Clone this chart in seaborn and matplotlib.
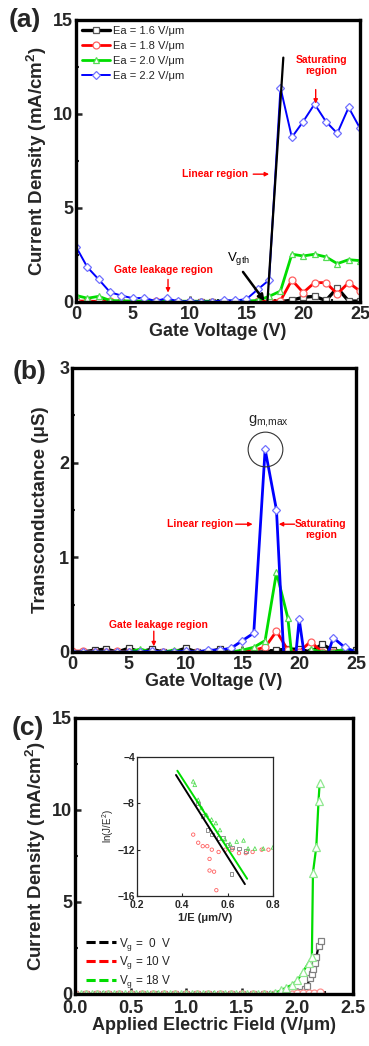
import numpy as np
import matplotlib
matplotlib.use("Agg")
import matplotlib.pyplot as plt
from matplotlib.ticker import MultipleLocator
from matplotlib.lines import Line2D
import seaborn as sns

# --- panel (a): current density vs gate voltage ---
gate_v = list(range(26))
ea_labels = ["Ea = 1.6 V/\u03bcm", "Ea = 1.8 V/\u03bcm", "Ea = 2.0 V/\u03bcm", "Ea = 2.2 V/\u03bcm"]
j_16 = [0.02, 0.02, 0.02, 0.02, 0.02, 0.02, 0.02, 0.02, 0.02, 0.02, 0.02, 0.02, 0.02,
        0.02, 0.02, 0.02, 0.02, 0.02, 0.02, 0.1, 0.25, 0.3, 0.08, 0.75, 0.05, 0.05]
j_18 = [0.05, 0.04, 0.03, 0.03, 0.03, 0.03, 0.03, 0.03, 0.03, 0.02, 0.02, 0.02, 0.02,
        0.02, 0.02, 0.02, 0.03, 0.05, 0.07, 1.17, 0.5, 1.03, 1.03, 0.43, 1.03, 0.58]
j_20 = [0.35, 0.2, 0.3, 0.08, 0.06, 0.05, 0.05, 0.05, 0.04, 0.04, 0.04, 0.04, 0.04,
        0.04, 0.05, 0.05, 0.08, 0.3, 0.58, 2.54, 2.45, 2.54, 2.4, 2.04, 2.25, 2.2]
j_22 = [2.94, 1.85, 1.2, 0.52, 0.34, 0.2, 0.22, 0.05, 0.2, 0.03, 0.05, 0.02, 0.02,
        0.1, 0.08, 0.15, 0.67, 1.17, 11.4, 8.76, 9.6, 10.53, 9.6, 8.97, 10.35, 9.24]
tangent_v = [16.85, 18.25]
tangent_j = [0.0, 13.0]

# --- panel (b): transconductance ---
gm_16 = [0, 0, 0.02, 0.03, 0, 0.04, 0, 0.03, 0, 0, 0.04, 0, 0, 0.03, 0, 0, 0, 0,
         0.02, 0.03, 0.03, 0, 0.08, 0.02, 0, 0.02]
gm_18 = [0.01, 0.01, 0, 0, 0.01, 0, 0, 0, 0, 0, 0, 0, 0, 0, 0, 0, 0.02, 0.05,
         0.22, 0.02, 0.0, 0.11, 0.0, 0.0, 0.02, 0]
gm_20 = [0, 0, 0, 0, 0, 0, 0.03, 0, 0, 0.02, 0, 0, 0, 0, 0, 0.02, 0.05, 0.12,
         0.84, 0.36, -0.8, 0.03, 0, 0, 0.03, 0.01]
gm_22 = [0, 0, 0, 0, 0, 0, 0, 0.01, 0, 0, 0.01, 0, 0.02, 0.02, 0.04, 0.12, 0.2, 2.14,
         1.5, -0.9, 0.345, -0.5, -0.2, 0.15, 0.05, 0.0]

# --- panel (c): current density vs applied field ---
vg_labels = ["V$_\\mathrm{g}$ =  0  V", "V$_\\mathrm{g}$ = 10 V", "V$_\\mathrm{g}$ = 18 V"]
e_18 = [0.0, 0.05, 0.1, 0.15, 0.2, 0.25, 0.3, 0.35, 0.4, 0.45, 0.5, 0.55, 0.6, 0.65,
        0.7, 0.75, 0.8, 0.85, 0.9, 0.95, 1.0, 1.05, 1.1, 1.15, 1.2, 1.25, 1.3, 1.35,
        1.4, 1.45, 1.5, 1.55, 1.6, 1.65, 1.7, 1.75, 1.8, 1.85, 1.9, 1.95, 2.0, 2.05,
        2.1, 2.13, 2.14, 2.17, 2.19, 2.2]
j_vg18 = [0.0] * 36 + [0.05, 0.2, 0.35, 0.5, 0.75, 1.2, 1.7, 2.0, 6.6, 8.0, 10.5, 11.45]
e_0 = [0.0, 0.1, 0.2, 0.3, 0.4, 0.5, 0.6, 0.7, 0.8, 0.9, 1.0, 1.1, 1.2, 1.3, 1.4,
       1.5, 1.6, 1.7, 1.8, 1.9, 1.96, 2.02, 2.07, 2.09, 2.11, 2.13, 2.14, 2.16, 2.17,
       2.19, 2.21]
j_vg0 = [0.0] * 20 + [0.0, 0.1, 0.27, 0.46, 0.86, 1.1, 1.35, 1.68, 2.0, 2.6, 2.9]
e_10 = [0.0, 0.1, 0.2, 0.3, 0.4, 0.5, 0.6, 0.7, 0.8, 0.9, 1.0, 1.1, 1.2, 1.3, 1.4,
        1.5, 1.6, 1.7, 1.8, 1.9, 1.95, 2.0, 2.05, 2.1, 2.15, 2.2]
j_vg10 = [0.0] * 20 + [0.02, 0.03, 0.05, 0.06, 0.08, 0.1]

# --- inset: Fowler-Nordheim plot ---
inv_e_0 = [0.47, 0.49, 0.51, 0.53, 0.56, 0.58, 0.60, 0.62, 0.65, 0.68, 0.617]
fn_0 = [-8.0, -9.1, -10.3, -10.7, -11.0, -11.0, -11.6, -11.8, -11.9, -12.1, -14.1]
inv_e_10 = [0.448, 0.47, 0.49, 0.51, 0.53, 0.56, 0.59, 0.62, 0.65, 0.68, 0.71, 0.75,
            0.78, 0.52, 0.52, 0.54, 0.55]
fn_10 = [-10.7, -11.4, -11.7, -11.7, -12.0, -12.2, -12.0, -12.0, -12.3, -12.3, -12.2,
         -12.0, -12.0, -12.8, -13.8, -13.9, -15.5]
inv_e_18 = [0.448, 0.455, 0.47, 0.485, 0.507, 0.529, 0.548, 0.566, 0.588, 0.61, 0.64,
            0.67, 0.69, 0.72, 0.757, 0.8]
fn_18 = [-6.1, -6.4, -7.7, -8.4, -9.0, -9.4, -9.7, -10.3, -11.1, -11.5, -11.3, -11.2,
         -11.9, -11.9, -11.9, -11.8]
fit_range_0 = [0.372, 0.676]
fit_range_18 = [0.378, 0.686]
fit_0 = (-31.0, 5.98)    # slope, intercept
fit_18 = (-30.3, 6.27)

sns.set_style("ticks")
plt.rcParams["font.family"] = ["Liberation Sans", "DejaVu Sans"]
plt.rcParams["mathtext.fontset"] = "custom"
plt.rcParams["mathtext.rm"] = "Liberation Sans"
plt.rcParams["mathtext.bf"] = "Liberation Sans:bold"
plt.rcParams["mathtext.it"] = "Liberation Sans:italic"

RED = "#ff0000"
GREEN = "#00dd00"
BLUE = "#0000ff"

fig = plt.figure(figsize=(3.69, 10.46), dpi=100)
W, H = 369, 1046


def px_axes(l, t, r, b):
    return fig.add_axes([l / W, 1 - b / H, (r - l) / W, (b - t) / H])


def style_axes(ax, xmaj, xmin, ymaj, ymin, xpad=3):
    for s in ax.spines.values():
        s.set_linewidth(2.4)
        s.set_color("black")
    ax.xaxis.set_major_locator(MultipleLocator(xmaj))
    ax.xaxis.set_minor_locator(MultipleLocator(xmin))
    ax.yaxis.set_major_locator(MultipleLocator(ymaj))
    ax.yaxis.set_minor_locator(MultipleLocator(ymin))
    ax.tick_params(which="major", direction="in", length=4, width=1.8,
                   labelsize=13, pad=2)
    ax.tick_params(axis="x", which="major", pad=xpad)
    ax.tick_params(which="minor", direction="in", length=2.5, width=1.5)
    for lab in ax.get_xticklabels() + ax.get_yticklabels():
        lab.set_fontweight("bold")


def series(ax, x, y, color, marker, mec=None, lw=2.0, ms=5, label=None):
    sns.lineplot(x=x, y=y, ax=ax, color=color, linewidth=lw, marker=marker,
                 markersize=ms, markerfacecolor="white",
                 markeredgecolor=mec or color, markeredgewidth=0.9,
                 sort=False, label=label, legend=False)


def red_arrow(ax, start, end):
    ax.annotate("", xy=end, xytext=start,
                arrowprops=dict(arrowstyle="-|>", color=RED, lw=1.0,
                                mutation_scale=6, shrinkA=0, shrinkB=0))


YLAB = 13.5
XLAB = 13

# ================= (a) =================
ax1 = px_axes(76, 20, 360, 302)
series(ax1, gate_v, j_16, "black", "s", mec="#555555", lw=2.4, label=ea_labels[0])
series(ax1, gate_v, j_18, RED, "o", mec="#ff6060", label=ea_labels[1])
series(ax1, gate_v, j_20, GREEN, "^", mec="#55dd55", label=ea_labels[2])
series(ax1, gate_v, j_22, BLUE, "D", mec="#7070ff", lw=1.4, ms=4.5, label=ea_labels[3])
ax1.plot(tangent_v, tangent_j, color="black", lw=1.6)
ax1.set_xlim(0, 25)
ax1.set_ylim(0, 15)
style_axes(ax1, 5, 2.5, 5, 2.5)
ax1.set_xlabel("Gate Voltage (V)", fontsize=XLAB, fontweight="bold", labelpad=0)
ax1.set_ylabel("Current Density (mA/cm$^\\mathbf{2}$)", fontsize=YLAB,
               fontweight="bold", labelpad=3)
ax1.legend(loc="upper left", frameon=False, fontsize=8, handlelength=2.6,
           handletextpad=0.2, labelspacing=0.45, borderaxespad=0.3,
           borderpad=0.2)

ax1.text(12.2, 6.8, "Linear region", color=RED, fontsize=7.5, fontweight="bold",
         ha="center", va="center")
red_arrow(ax1, (15.6, 6.8), (17.0, 6.8))
ax1.text(21.6, 12.6, "Saturating\nregion", color=RED, fontsize=7.5,
         fontweight="bold", ha="center", va="center", linespacing=1.1)
red_arrow(ax1, (21.1, 11.3), (21.1, 10.55))
ax1.text(7.7, 1.7, "Gate leakage region", color=RED, fontsize=7.5,
         fontweight="bold", ha="center", va="center")
red_arrow(ax1, (8.1, 1.2), (8.1, 0.5))
ax1.text(14.3, 2.3, "V$_\\mathrm{gth}$", color="black", fontsize=9.5,
         ha="center", va="center")
ax1.annotate("", xy=(16.6, 0.05), xytext=(14.7, 1.6),
             arrowprops=dict(arrowstyle="-|>", color="black", lw=1.8,
                             mutation_scale=9, shrinkA=0, shrinkB=0))

# ================= (b) =================
ax2 = px_axes(72, 368, 356, 652)
series(ax2, gate_v, gm_16, "black", "s", mec="#333333", lw=2.4)
series(ax2, gate_v, gm_18, RED, "o", mec="#ff6060")
series(ax2, gate_v, gm_20, GREEN, "^", mec="#55dd55")
series(ax2, gate_v, gm_22, BLUE, "D", mec="#7070ff", ms=4.5)
ax2.set_xlim(0, 25)
ax2.set_ylim(0, 3)
style_axes(ax2, 5, 2.5, 1, 0.5)
ax2.set_xlabel("Gate Voltage (V)", fontsize=XLAB, fontweight="bold", labelpad=0)
ax2.set_ylabel("Transconductance (\u03bcS)", fontsize=YLAB, fontweight="bold",
               labelpad=7)

peak = int(np.argmax(gm_22))
ax2.plot([gate_v[peak]], [gm_22[peak]], marker="o", markersize=25,
         markerfacecolor="none", markeredgecolor="#333333", markeredgewidth=0.8)
ax2.text(gate_v[peak] + 0.3, gm_22[peak] + 0.3, "g$_\\mathrm{m{,}max}$",
         fontsize=10.5, ha="center", va="center")
ax2.text(11.3, 1.35, "Linear region", color=RED, fontsize=7.5, fontweight="bold",
         ha="center", va="center")
red_arrow(ax2, (14.4, 1.35), (15.9, 1.35))
ax2.text(21.9, 1.29, "Saturating\nregion", color=RED, fontsize=7.5,
         fontweight="bold", ha="center", va="center", linespacing=1.1)
red_arrow(ax2, (19.6, 1.35), (18.2, 1.35))
ax2.text(7.6, 0.28, "Gate leakage region", color=RED, fontsize=7.5,
         fontweight="bold", ha="center", va="center")
red_arrow(ax2, (7.2, 0.22), (7.2, 0.06))

# ================= (c) =================
ax3 = px_axes(75, 718, 353, 994)
series(ax3, e_0, j_vg0, "black", "s", mec="#808080", lw=1.6, ms=5)
series(ax3, e_10, j_vg10, RED, "o", mec="#ff9090", lw=1.2, ms=5)
series(ax3, e_18, j_vg18, GREEN, "^", mec="#90e890", lw=1.6, ms=6)
ax3.set_xlim(0, 2.5)
ax3.set_ylim(0, 15)
style_axes(ax3, 0.5, 0.25, 5, 2.5, xpad=4.5)
ax3.set_xticklabels([f"{v:.1f}" for v in ax3.get_xticks()], fontweight="bold")
ax3.set_xlabel("Applied Electric Field (V/\u03bcm)", fontsize=XLAB,
               fontweight="bold", labelpad=0)
ax3.set_ylabel("Current Density (mA/cm$^\\mathbf{2}$)", fontsize=YLAB,
               fontweight="bold", labelpad=3)
handles = [Line2D([], [], color=c, lw=2.2, ls=(0, (3, 1.2)))
           for c in ["black", RED, GREEN]]
ax3.legend(handles, vg_labels, loc="upper left", bbox_to_anchor=(0.0, 0.25),
           frameon=False, fontsize=8.5, handlelength=2.6, handletextpad=0.2,
           labelspacing=0.15)

# inset
axi = px_axes(137, 757, 273, 896)
sns.scatterplot(x=inv_e_10, y=fn_10, ax=axi, marker="o", s=6,
                facecolors="none", edgecolor="#ff6060", linewidth=0.6)
sns.scatterplot(x=inv_e_0, y=fn_0, ax=axi, marker="s", s=6,
                facecolors="none", edgecolor="#808080", linewidth=0.6)
sns.scatterplot(x=inv_e_18, y=fn_18, ax=axi, marker="^", s=7,
                facecolors="none", edgecolor="#55dd55", linewidth=0.6)
axi.plot(fit_range_0, [fit_0[0] * v + fit_0[1] for v in fit_range_0],
         color="black", lw=1.4)
axi.plot(fit_range_18, [fit_18[0] * v + fit_18[1] for v in fit_range_18],
         color=GREEN, lw=1.4)
axi.set_xlim(0.2, 0.8)
axi.set_ylim(-16, -4)
for s in axi.spines.values():
    s.set_linewidth(0.9)
axi.xaxis.set_major_locator(MultipleLocator(0.2))
axi.yaxis.set_major_locator(MultipleLocator(4))
axi.tick_params(direction="in", length=2, width=0.8, labelsize=7.5, pad=1.5)
axi.tick_params(axis="x", pad=3)
for lab in axi.get_xticklabels() + axi.get_yticklabels():
    lab.set_fontweight("bold")
axi.set_xlabel("1/E (\u03bcm/V)", fontsize=8, fontweight="bold", labelpad=2)
axi.set_ylabel("ln(J/E$^2$)", fontsize=7, labelpad=1)

# panel letters
for label, x, y in [("(a)", 25, 20), ("(b)", 30, 372), ("(c)", 28, 728)]:
    fig.text(x / W, 1 - y / H, label, fontsize=19, fontweight="bold",
             ha="center", va="center")

fig.savefig("out.png", dpi=100)
